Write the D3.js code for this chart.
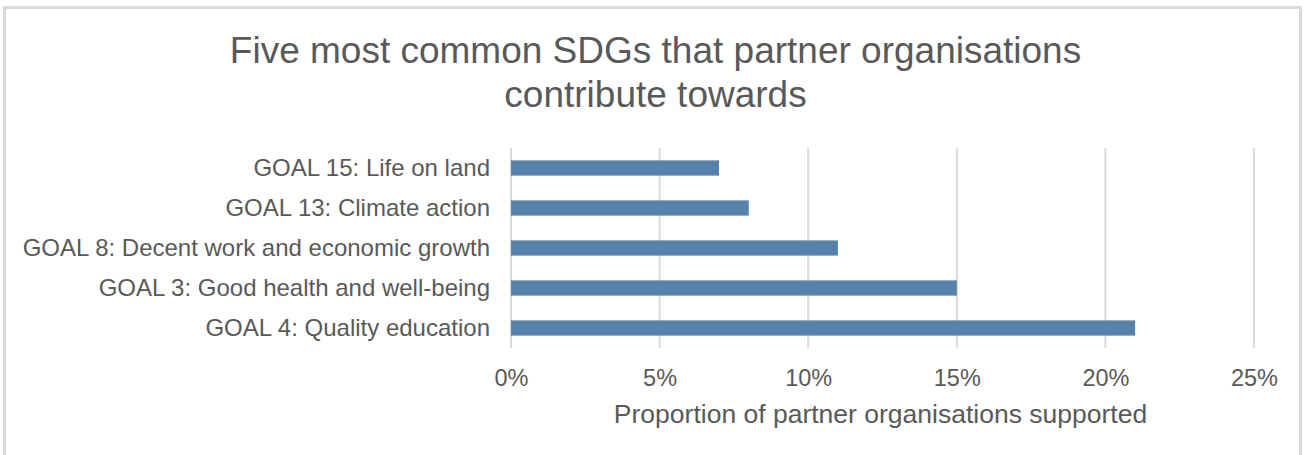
<!DOCTYPE html>
<html><head><meta charset="utf-8">
<script src="https://cdn.jsdelivr.net/npm/d3@7"></script>
<style>body{margin:0;background:#fff;} svg{display:block;font-family:"Liberation Sans",Arial,sans-serif;}</style>
</head><body>
<svg id="chart" width="1307" height="455"></svg>
<script>
const categories = ["GOAL 15: Life on land","GOAL 13: Climate action","GOAL 8: Decent work and economic growth","GOAL 3: Good health and well-being","GOAL 4: Quality education"];
const values = [0.07, 0.08, 0.11, 0.15, 0.21];
const xTicks = [0, 0.05, 0.10, 0.15, 0.20, 0.25];
const titleLines = ["Five most common SDGs that partner organisations","contribute towards"];
const xAxisTitle = "Proportion of partner organisations supported";

const svg = d3.select("#chart");
const textColor = "#595959";
// chart border
svg.append("rect").attr("x",4.5).attr("y",7.5).attr("width",1296).attr("height",460)
  .attr("fill","#fff").attr("stroke","#d9d9d9").attr("stroke-width",3);

const pLeft = 511, pRight = 1254, pTop = 148, pBottom = 348;
const x = d3.scaleLinear().domain([0,0.25]).range([pLeft,pRight]);
const y = d3.scaleBand().domain(categories).range([pTop,pBottom]).paddingInner(0.62).paddingOuter(0.31);

// gridlines
svg.append("g").selectAll("line").data(xTicks).join("line")
  .attr("x1",d=>x(d)).attr("x2",d=>x(d)).attr("y1",pTop).attr("y2",pBottom)
  .attr("stroke","#d9d9d9").attr("stroke-width",2);

// bars
svg.append("g").selectAll("rect").data(values).join("rect")
  .attr("x",x(0)).attr("y",(d,i)=>y(categories[i]))
  .attr("width",d=>x(d)-x(0)).attr("height",y.bandwidth())
  .attr("fill","#5482ab");

// y labels
const yAxis = d3.axisLeft(y).tickSize(0).tickPadding(21);
const gy = svg.append("g").attr("transform",`translate(${pLeft},0)`).call(yAxis);
gy.select(".domain").remove();
gy.selectAll("text").attr("fill",textColor).style("font-size","24px").attr("dy","0.35em");

// x tick labels
const xAxis = d3.axisBottom(x).tickValues(xTicks).tickFormat(d3.format(".0%")).tickSize(0).tickPadding(21);
const gx = svg.append("g").attr("transform",`translate(0,${pBottom})`).call(xAxis);
gx.select(".domain").remove();
gx.selectAll("text").attr("fill",textColor).style("font-size","23.5px");

// axis title
svg.append("text").attr("x",880.5).attr("y",423).attr("text-anchor","middle")
  .attr("fill",textColor).style("font-size","26.5px").text(xAxisTitle);

// title
svg.append("g").selectAll("text").data(titleLines).join("text")
  .attr("x",655.5).attr("y",(d,i)=>63+i*44).attr("text-anchor","middle")
  .attr("fill",textColor).style("font-size","37px").text(d=>d);
</script>
</body></html>
